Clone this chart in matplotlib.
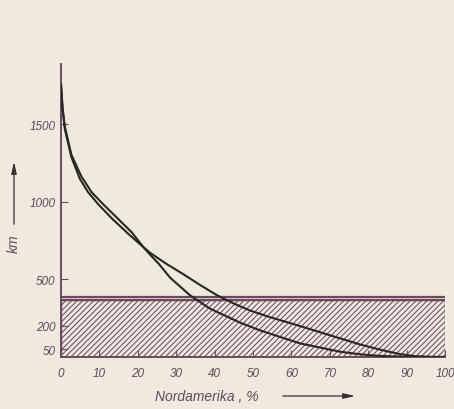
import matplotlib
matplotlib.use("Agg")
import matplotlib.pyplot as plt
from matplotlib.patches import Rectangle, FancyArrowPatch

# --- data ---
x_lower = [0, 0.4, 1, 2.7, 5.3, 8, 11, 14.5, 18.4, 21.4, 23.2, 25.5, 28.4, 33.6, 38.8,
           46.6, 51.8, 62.2, 72.7, 78, 83, 90, 100]
km_lower = [1760, 1610, 1485, 1305, 1165, 1062, 985, 900, 805, 710, 660, 600, 512, 398, 312,
            222, 172, 88, 34, 17, 7, 1, 0]

x_upper = [0, 0.4, 1, 2.7, 4.9, 7, 9.7, 13.2, 17.5, 21.4, 23.2, 27.5, 31.8, 36, 40.5, 45,
           49.2, 54.4, 62.2, 72.7, 78, 83, 88, 92, 96, 100]
km_upper = [1760, 1600, 1470, 1290, 1150, 1065, 985, 895, 795, 710, 672, 600, 535, 468, 400,
            345, 300, 257, 200, 120, 80, 48, 20, 6, 1, 0]

band_top = 390
band_hatch_top = 365

x_ticks = [0, 10, 20, 30, 40, 50, 60, 70, 80, 90, 100]
y_ticks = [50, 200, 500, 1000, 1500]

bg = "#efe9df"
axis_col = "#6b4a5e"
text_col = "#5e4a5a"
curve_col = "#2a2622"
hatch_col = "#776d71"
font = ["Liberation Sans Narrow", "Liberation Sans", "DejaVu Sans"]

plt.rcParams['hatch.color'] = hatch_col
plt.rcParams['hatch.linewidth'] = 0.75

fig = plt.figure(figsize=(4.54, 4.10), dpi=100, facecolor=bg)
ax = fig.add_axes([61/454, 1-358/410, (445-61)/454, (358-65)/410])
ax.set_facecolor(bg)
ax.set_xlim(0, 100)
ax.set_ylim(0, 1890)

rect = Rectangle((0, 0), 100, band_hatch_top, facecolor="none", edgecolor=axis_col,
                 hatch="//////", linewidth=1.0, zorder=1)
ax.add_patch(rect)
ax.axhline(band_top, color=axis_col, lw=1.6, zorder=3)
ax.axhline(band_hatch_top, color=axis_col, lw=1.6, zorder=3)

ax.plot(x_lower, km_lower, color=curve_col, lw=1.5, zorder=4, solid_joinstyle="round")
ax.plot(x_upper, km_upper, color=curve_col, lw=1.5, zorder=4, solid_joinstyle="round")

for s in ["top", "right"]:
    ax.spines[s].set_visible(False)
for s in ["left", "bottom"]:
    ax.spines[s].set_color(axis_col)
    ax.spines[s].set_linewidth(1.4)

ax.set_xticks(x_ticks)
ax.set_yticks(y_ticks)
ax.tick_params(axis="y", direction="in", length=5, width=0.8, color=axis_col, pad=4)
ax.tick_params(axis="x", direction="in", length=5, width=0.8, color=axis_col, pad=7)
ax.set_xticklabels([str(v) for v in x_ticks], fontsize=8.5, style="italic",
                   color=text_col, family=font)
ax.set_yticklabels([str(v) for v in y_ticks], fontsize=8.5, style="italic",
                   color=text_col, family=font)

# axis labels with arrows
fig.text(155/454, 1-397/410, "Nordamerika , %", fontsize=10, style="italic",
         color=text_col, family=font, ha="left", va="center")
fig.add_artist(FancyArrowPatch(
    (280/454, 1-397/410), (358/454, 1-397/410), transform=fig.transFigure,
    arrowstyle="-|>,head_length=7,head_width=1.6", color="#3a3036", lw=0.9))

fig.text(14/454, 1-244/410, "km", fontsize=10, style="italic", rotation=90,
         color=text_col, family=font, ha="center", va="center")
fig.add_artist(FancyArrowPatch(
    (14/454, 1-228/410), (14/454, 1-160/410), transform=fig.transFigure,
    arrowstyle="-|>,head_length=7,head_width=1.6", color="#3a3036", lw=0.9))

fig.savefig("out.png", dpi=100, facecolor=bg)
